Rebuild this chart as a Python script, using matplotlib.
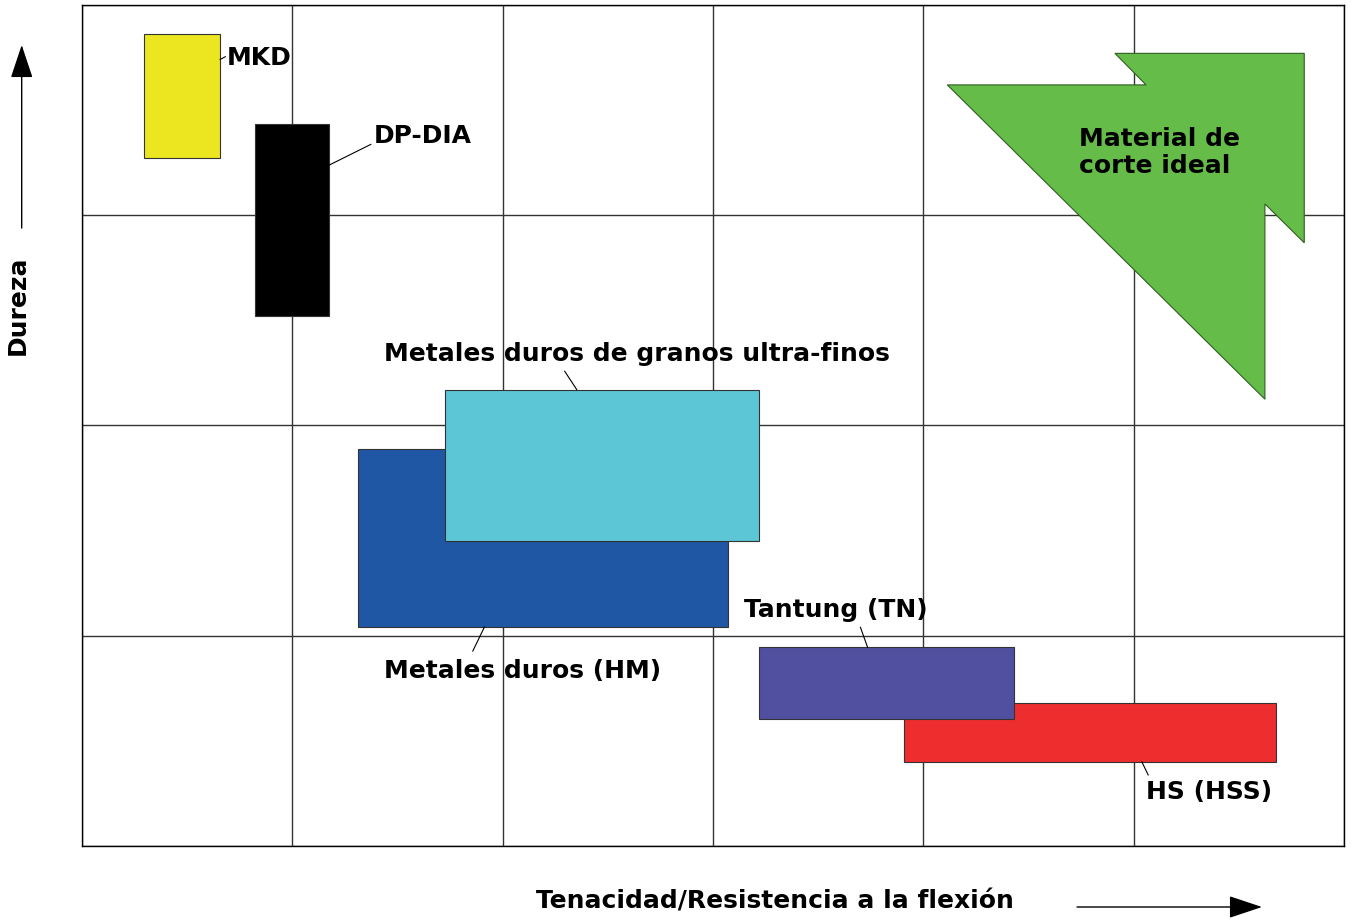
import matplotlib.pyplot as plt
from matplotlib.patches import Rectangle, Polygon

# Materials: ranges on the toughness (x) and hardness (y) grid, 6 x 4 cells
materials = ["MKD", "DP-DIA", "Metales duros (HM)", "Metales duros de granos ultra-finos",
             "HS (HSS)", "Tantung (TN)"]
x_low = [0.295, 0.821, 1.311, 1.725, 3.909, 3.217]
x_high = [0.657, 1.174, 3.073, 3.221, 5.679, 4.429]
y_low = [3.274, 2.522, 1.043, 1.453, 0.400, 0.605]
y_high = [3.862, 3.435, 1.889, 2.171, 0.682, 0.945]
colors = ["#EBE61F", "#000000", "#1F57A5", "#5CC6D6", "#EE2E2E", "#5150A0"]

# label position (left, middle) and leader line (from, to)
label_x = [0.688, 1.385, 1.438, 1.438, 5.061, 3.149]
label_y = [3.748, 3.377, 0.832, 2.342, 0.257, 1.122]
leader_from = [(0.657, 3.741), (1.174, 3.238), (1.913, 1.041), (2.352, 2.171), (5.039, 0.400), (3.735, 0.945)]
leader_to = [(0.681, 3.754), (1.373, 3.337), (1.858, 0.927), (2.295, 2.258), (5.069, 0.338), (3.701, 1.040)]

# ideal cutting material arrow (outline of the green shape)
ideal_x = [4.114, 5.059, 4.911, 5.811, 5.811, 5.624, 5.624]
ideal_y = [3.620, 3.620, 3.770, 3.770, 2.869, 3.054, 2.125]
ideal_label = "Material de\ncorte ideal"

n_cols = 6
n_rows = 4

W, H = 1351, 922
FONT = "DejaVu Sans"
FS = 18


def fig_xy(px, py):
    return px / W, 1 - py / H


def main():
    fig = plt.figure(figsize=(W / 100, H / 100), dpi=100)
    ax = fig.add_axes([82 / W, (H - 846) / H, 1262 / W, 841 / H])
    ax.set_xlim(0, n_cols)
    ax.set_ylim(0, n_rows)
    ax.set_xticks(range(n_cols + 1))
    ax.set_yticks(range(n_rows + 1))
    ax.tick_params(length=0, labelbottom=False, labelleft=False)
    ax.grid(True, color="#333333", lw=1.0)
    ax.set_axisbelow(True)
    for s in ax.spines.values():
        s.set_color("black")
        s.set_linewidth(1.0)

    for i, name in enumerate(materials):
        ax.add_patch(Rectangle((x_low[i], y_low[i]), x_high[i] - x_low[i], y_high[i] - y_low[i],
                               facecolor=colors[i], edgecolor="#333333", lw=0.8, zorder=3 + i))
        ax.plot([leader_from[i][0], leader_to[i][0]], [leader_from[i][1], leader_to[i][1]],
                color="black", lw=0.8, zorder=10)
        ax.text(label_x[i], label_y[i], name, ha="left", va="center", fontsize=FS,
                fontweight="bold", family=FONT, zorder=11)

    ax.add_patch(Polygon(list(zip(ideal_x, ideal_y)), closed=True, facecolor="#66BC48",
                         edgecolor="#2E5E22", lw=0.8, zorder=9))
    ax.text(4.740, 3.298, ideal_label, ha="left", va="center", fontsize=FS, fontweight="bold",
            family=FONT, linespacing=1.15, zorder=11)

    # axis titles with arrows
    fig.text(*fig_xy(18, 305), "Dureza", rotation=90, ha="center", va="center",
             fontsize=FS, fontweight="bold", family=FONT)
    fig.text(*fig_xy(775, 901), "Tenacidad/Resistencia a la flexión", ha="center", va="center",
             fontsize=FS, fontweight="bold", family=FONT)
    arrow = dict(arrowstyle="-|>,head_length=1.5,head_width=0.5", mutation_scale=14,
                 color="black", lw=1.0, shrinkA=0, shrinkB=0)
    ax.annotate("", xy=fig_xy(21.7, 45), xytext=fig_xy(21.7, 228),
                xycoords="figure fraction", textcoords="figure fraction", arrowprops=arrow)
    ax.annotate("", xy=fig_xy(1262, 907), xytext=fig_xy(1077, 907),
                xycoords="figure fraction", textcoords="figure fraction", arrowprops=arrow)

    fig.savefig("out.png", dpi=100)


if __name__ == "__main__":
    main()
